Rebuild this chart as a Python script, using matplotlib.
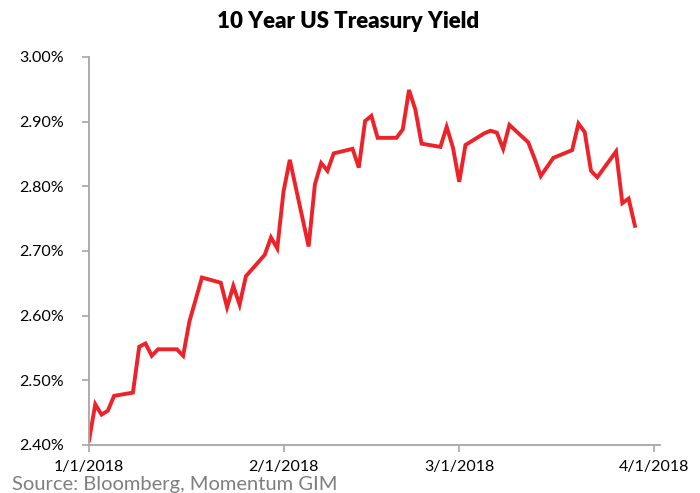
import pandas as pd
import matplotlib.pyplot as plt
import matplotlib.dates as mdates
import matplotlib.ticker as mticker

# data (10y yield, %)
dates = [
    '2018-01-01', '2018-01-02', '2018-01-03', '2018-01-04', '2018-01-05',
    '2018-01-08', '2018-01-09', '2018-01-10', '2018-01-11', '2018-01-12',
    '2018-01-15', '2018-01-16', '2018-01-17', '2018-01-19', '2018-01-22',
    '2018-01-23', '2018-01-24', '2018-01-25', '2018-01-26', '2018-01-29',
    '2018-01-30', '2018-01-31', '2018-02-01', '2018-02-02', '2018-02-05',
    '2018-02-06', '2018-02-07', '2018-02-08', '2018-02-09', '2018-02-12',
    '2018-02-13', '2018-02-14', '2018-02-15', '2018-02-16', '2018-02-19',
    '2018-02-20', '2018-02-21', '2018-02-22', '2018-02-23', '2018-02-26',
    '2018-02-27', '2018-02-28', '2018-03-01', '2018-03-02', '2018-03-05',
    '2018-03-06', '2018-03-07', '2018-03-08', '2018-03-09', '2018-03-12',
    '2018-03-13', '2018-03-14', '2018-03-16', '2018-03-19', '2018-03-20',
    '2018-03-21', '2018-03-22', '2018-03-23', '2018-03-26', '2018-03-27',
    '2018-03-28', '2018-03-29',
]
yields = [
    2.407, 2.463, 2.447, 2.453, 2.476,
    2.481, 2.552, 2.557, 2.538, 2.548,
    2.548, 2.538, 2.591, 2.659, 2.651,
    2.613, 2.646, 2.617, 2.661, 2.694,
    2.721, 2.704, 2.792, 2.841, 2.707,
    2.803, 2.836, 2.824, 2.851, 2.858,
    2.829, 2.901, 2.909, 2.875, 2.875,
    2.888, 2.949, 2.919, 2.866, 2.861,
    2.892, 2.860, 2.807, 2.864, 2.882,
    2.886, 2.883, 2.858, 2.895, 2.868,
    2.843, 2.816, 2.844, 2.856, 2.897,
    2.884, 2.824, 2.814, 2.854, 2.774,
    2.781, 2.739,
]
x_ticks = ['2018-01-01', '2018-02-01', '2018-03-01', '2018-04-01']

red = '#EE2229'
grey = '#A6A6A6'

plt.rcParams['font.family'] = ['Lato', 'DejaVu Sans']

fig = plt.figure(figsize=(7, 4.93), dpi=100)
ax = fig.add_axes([89 / 700, 48 / 493, 571 / 700, 388 / 493])

ax.plot(pd.to_datetime(dates), yields, color=red, lw=2.8, solid_joinstyle='miter')

ax.set_ylim(2.40, 3.00)
ax.yaxis.set_major_locator(mticker.MultipleLocator(0.10))
ax.yaxis.set_major_formatter(mticker.FuncFormatter(lambda v, p: f'{v:.2f}%'))

ax.set_xlim(pd.Timestamp('2018-01-01'), pd.Timestamp('2018-04-02'))
ax.set_xticks(pd.to_datetime(x_ticks))
ax.xaxis.set_major_formatter(mdates.DateFormatter('%-m/%-d/%Y'))

for s in ['top', 'right']:
    ax.spines[s].set_visible(False)
for s in ['left', 'bottom']:
    ax.spines[s].set_color(grey)
    ax.spines[s].set_linewidth(1.3)
ax.tick_params(colors=grey, labelcolor='black', labelsize=11.5, length=5, width=1.2)
ax.tick_params(axis='y', pad=13)
ax.tick_params(axis='x', pad=6)

fig.text(0.497, 0.957, '10 Year US Treasury Yield', ha='center', va='center',
         fontsize=16, fontweight='heavy')
fig.text(12 / 700, 0.018, 'Source: Bloomberg, Momentum GIM', ha='left', va='center',
         fontsize=14.5, color='#7F7F7F')

fig.savefig('out.png', dpi=100)
